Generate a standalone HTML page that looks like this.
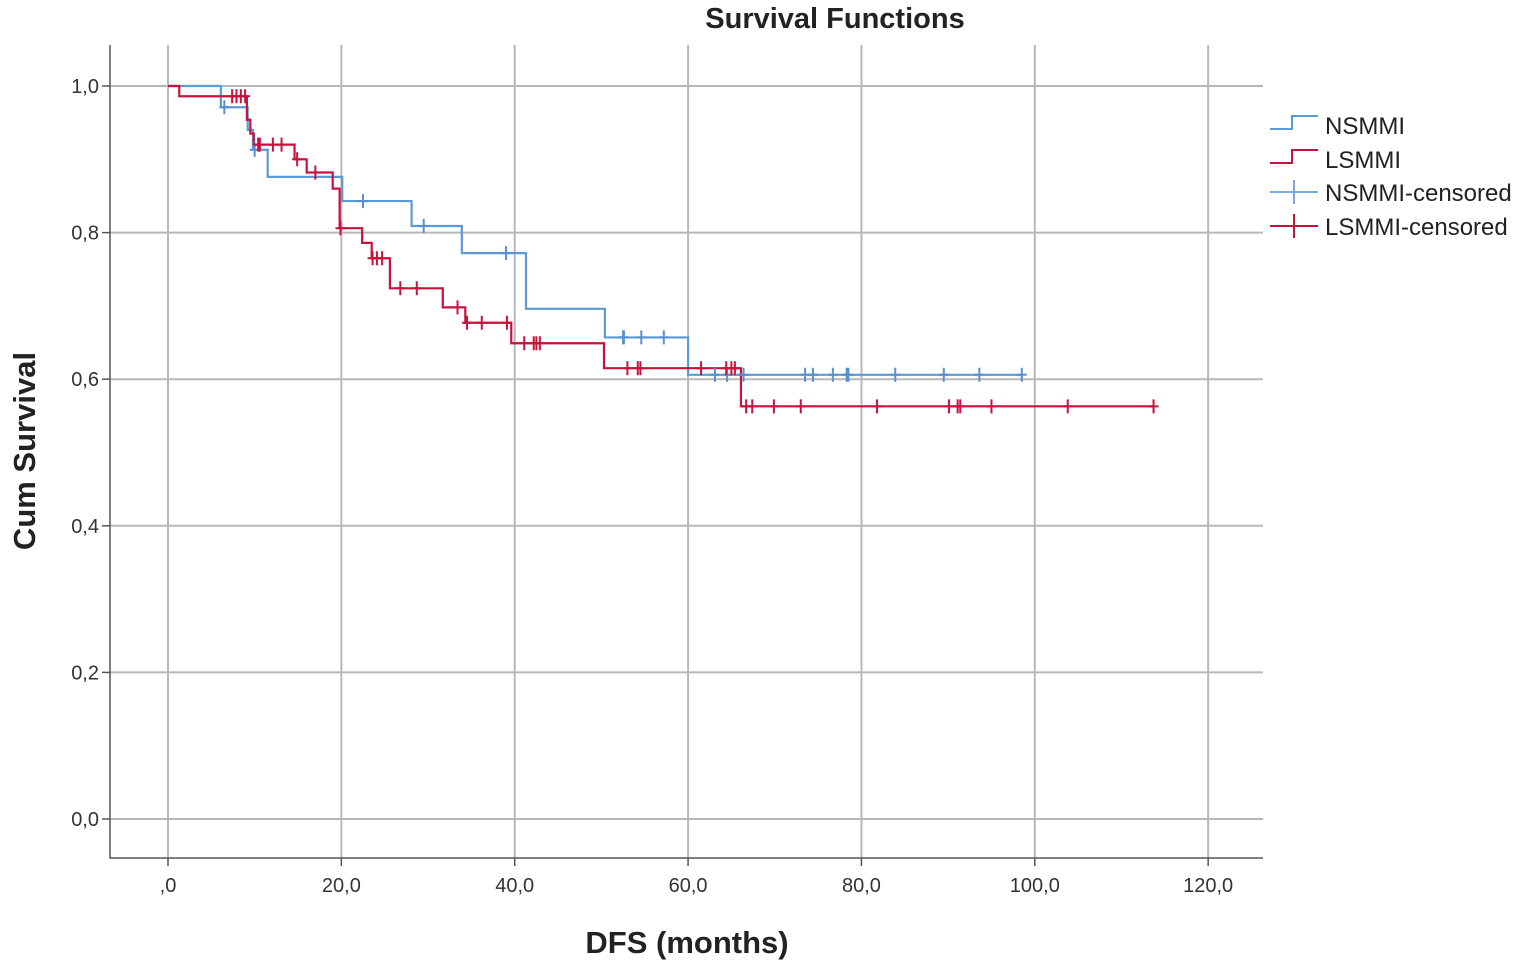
<!DOCTYPE html>
<html><head><meta charset="utf-8"><style>
body{margin:0;background:#fff;}
svg text{font-family:"Liberation Sans",Arial,sans-serif;}
</style></head><body>
<svg id="chart" width="1535" height="968" xmlns="http://www.w3.org/2000/svg">
<text x="835" y="28" font-size="29" font-weight="bold" text-anchor="middle" fill="#222">Survival Functions</text>
<text x="687" y="953" font-size="31" font-weight="bold" text-anchor="middle" fill="#222">DFS (months)</text>
<text transform="translate(35,451) rotate(-90)" font-size="31" font-weight="bold" text-anchor="middle" fill="#222">Cum Survival</text>
<g id="grid"></g><g id="axes"></g><g id="marks"></g>
<g font-size="24" fill="#222">
<path d="M1270,129 H1292 V116 H1318" fill="none" stroke="#5b9bd5" stroke-width="2"/>
<text x="1325" y="134">NSMMI</text>
<path d="M1270,163 H1292 V150 H1318" fill="none" stroke="#c8123c" stroke-width="2"/>
<text x="1325" y="168">LSMMI</text>
<path d="M1270,192 H1318 M1294,180 V204" stroke="#7fa8e0" stroke-width="2"/>
<text x="1325" y="201">NSMMI-censored</text>
<path d="M1270,226 H1318 M1294,214 V238" stroke="#c8123c" stroke-width="2"/>
<text x="1325" y="235">LSMMI-censored</text>
</g>
</svg>
<script>
const xTicks=[0,20,40,60,80,100,120];
const xTickLabels=[",0","20,0","40,0","60,0","80,0","100,0","120,0"];
const yTicks=[0,0.2,0.4,0.6,0.8,1.0];
const yTickLabels=["0,0","0,2","0,4","0,6","0,8","1,0"];
const nsTimes=[0,6.1,9.2,9.8,11.5,20.1,28.1,33.9,41.3,50.4,60.0,98.5];
const nsSurv=[1.0,0.971,0.94,0.913,0.876,0.843,0.809,0.772,0.696,0.657,0.606,0.606];
const lsTimes=[0,1.3,9.1,9.5,9.9,14.6,16.0,19.0,19.8,22.4,23.5,25.6,31.7,34.3,39.6,50.3,66.1,113.7];
const lsSurv=[1.0,0.986,0.954,0.935,0.92,0.9,0.882,0.86,0.806,0.786,0.765,0.724,0.698,0.677,0.649,0.615,0.563,0.563];
const nsCensT=[6.5,10,22.5,29.5,39,52.5,52.6,54.6,57.2,63.1,64.5,66.4,73.5,74.4,76.7,78.3,78.5,83.9,89.5,93.6,98.5];
const lsCensT=[7.4,7.9,8.4,8.9,10.4,10.6,12.1,13.1,14.9,17,19.9,23.6,24.1,24.7,26.8,28.7,33.4,34.5,36.2,39.1,41.1,42.2,42.5,42.9,53,54.2,54.5,61.5,64.4,65.0,65.4,66.7,67.4,69.9,73,81.8,90.1,91.1,91.4,95,103.8,113.7];
const X=t=>168+t*8.668, Y=s=>819-s*733;
const NS="http://www.w3.org/2000/svg";
function mk(tag,at,parent){const e=document.createElementNS(NS,tag);for(const k in at)e.setAttribute(k,at[k]);document.getElementById(parent).appendChild(e);return e;}
function survAt(times,surv,t){let s=surv[0];for(let i=0;i<times.length;i++){if(times[i]<=t)s=surv[i];}return s;}
xTicks.forEach((t,i)=>{
 const g=mk('line',{x1:X(t),x2:X(t),y1:45,y2:858,stroke:'#b8b8b8','stroke-width':2},'grid');
 
 
 const tk=mk('line',{x1:X(t),x2:X(t),y1:858,y2:866,stroke:'#555','stroke-width':1.5},'axes');
 
 
 const tx=mk('text',{x:X(t),y:892,'font-size':20,'text-anchor':'middle',fill:'#333'},'axes');
 tx.textContent=xTickLabels[i];
 
 
});
yTicks.forEach((v,i)=>{
 const g=mk('line',{x1:110,x2:1263,y1:Y(v),y2:Y(v),stroke:'#b8b8b8','stroke-width':2},'grid');
 
 
 const tk=mk('line',{x1:102,x2:110,y1:Y(v),y2:Y(v),stroke:'#555','stroke-width':1.5},'axes');
 
 
 const tx=mk('text',{x:99,y:Y(v)+7,'font-size':20,'text-anchor':'end',fill:'#333'},'axes');
 tx.textContent=yTickLabels[i];
 
 
});
const ax=mk('path',{d:'M110,45 V858 H1263',fill:'none',stroke:'#555','stroke-width':1.5},'axes');


function stepPath(times,surv){let d=`M${X(times[0])},${Y(surv[0])}`;for(let i=1;i<times.length;i++){d+=` H${X(times[i])} V${Y(surv[i])}`;}return d;}
const p1=mk('path',{d:stepPath(nsTimes,nsSurv),fill:'none',stroke:'#5b9bd5','stroke-width':2.2},'marks');


const p2=mk('path',{d:stepPath(lsTimes,lsSurv),fill:'none',stroke:'#c8123c','stroke-width':2.2},'marks');


nsCensT.forEach(t=>{const s=survAt(nsTimes,nsSurv,t);
 const c=mk('path',{d:`M${X(t)-5},${Y(s)} H${X(t)+5} M${X(t)},${Y(s)-7} V${Y(s)+7}`,stroke:'#5b8fd0','stroke-width':2},'marks');
 
 });
lsCensT.forEach(t=>{const s=survAt(lsTimes,lsSurv,t);
 const c=mk('path',{d:`M${X(t)-5},${Y(s)} H${X(t)+5} M${X(t)},${Y(s)-7} V${Y(s)+7}`,stroke:'#c8123c','stroke-width':2},'marks');
 
 });
</script>
</body></html>
